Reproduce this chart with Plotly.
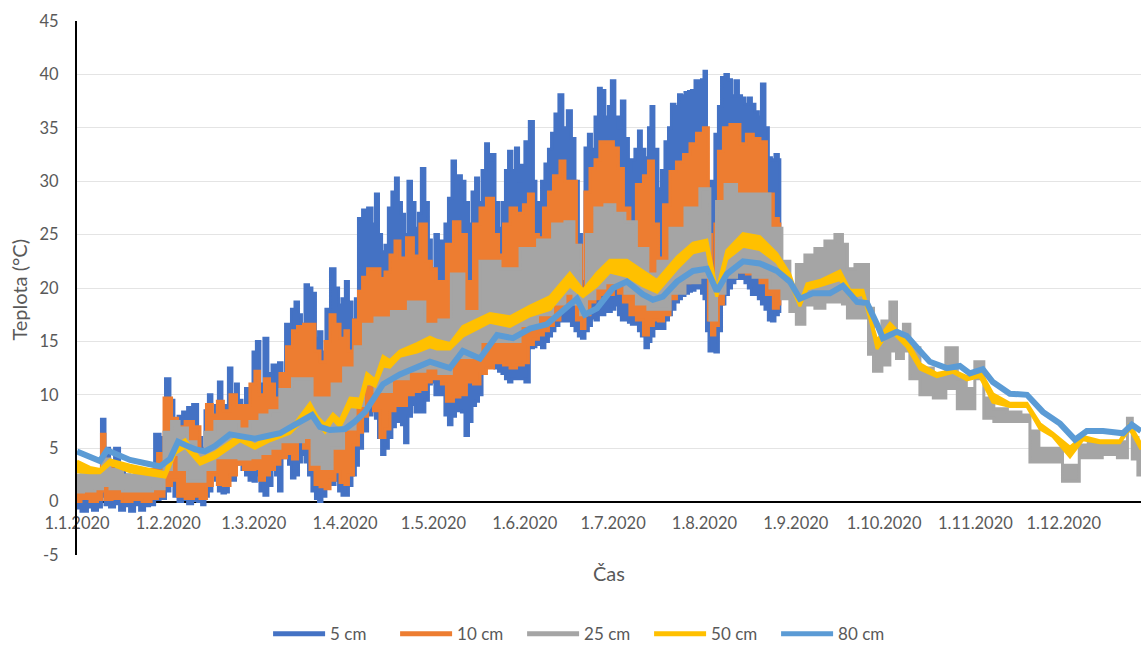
import pandas as pd
import plotly.graph_objects as go

# ---------------- axis labels ----------------
month_ticks = ['2020-01-01', '2020-02-01', '2020-03-01', '2020-04-01', '2020-05-01', '2020-06-01',
               '2020-07-01', '2020-08-01', '2020-09-01', '2020-10-01', '2020-11-01', '2020-12-01']
month_labels = ['1.1.2020', '1.2.2020', '1.3.2020', '1.4.2020', '1.5.2020', '1.6.2020',
                '1.7.2020', '1.8.2020', '1.9.2020', '1.10.2020', '1.11.2020', '1.12.2020']
y_ticks = [-5, 0, 5, 10, 15, 20, 25, 30, 35, 40, 45]
series_names = ['5 cm', '10 cm', '25 cm', '50 cm', '80 cm']

# ---------------- 5 cm (day of year, daily max envelope, daily min envelope) ----------------
days_5 = [0.0, 2.7, 4.4, 6.1, 7.8, 8.8, 10.2, 11.9, 13.6, 15.3,
          17.0, 18.7, 20.4, 22.1, 23.8, 25.5, 27.2, 29.2, 30.9, 32.2,
          33.6, 35.0, 36.7, 38.4, 40.1, 41.8, 42.8, 44.1, 45.1, 46.5,
          47.5, 48.5, 49.9, 50.9, 51.9, 53.3, 54.3, 55.3, 56.7, 57.7,
          59.1, 60.4, 61.4, 62.8, 64.1, 65.5, 66.9, 67.9, 68.9, 70.3,
          71.3, 72.3, 73.3, 74.7, 75.7, 76.7, 78.1, 79.1, 80.4, 81.5,
          82.5, 83.8, 85.2, 86.9, 88.3, 89.3, 90.6, 91.6, 92.7, 94.0,
          95.0, 96.1, 97.8, 99.5, 100.8, 101.8, 102.9, 103.9, 105.2, 106.2,
          107.6, 108.6, 109.6, 110.7, 111.7, 113.0, 114.1, 115.4, 116.4, 117.4,
          118.8, 119.8, 120.8, 122.2, 123.2, 124.2, 125.6, 126.6, 128.0, 129.0,
          130.0, 131.0, 132.4, 133.4, 134.8, 135.8, 136.8, 138.2, 139.2, 140.2,
          141.2, 142.6, 143.6, 144.9, 146.0, 147.0, 148.3, 149.4, 150.4, 151.4,
          152.7, 154.4, 155.5, 156.1, 157.2, 158.2, 159.5, 160.6, 161.6, 162.9,
          164.3, 165.6, 167.3, 168.4, 169.7, 170.7, 171.8, 173.1, 174.1, 175.2,
          176.5, 177.5, 178.5, 179.9, 180.9, 181.9, 183.3, 184.3, 185.3, 186.7,
          187.7, 188.7, 190.1, 191.1, 192.1, 193.5, 194.5, 195.2, 196.5, 197.9,
          198.9, 200.3, 201.3, 202.3, 203.7, 204.7, 205.7, 207.1, 208.1, 209.1,
          210.5, 211.5, 212.5, 213.2, 214.2, 214.9, 215.9, 217.2, 218.3, 219.3,
          220.6, 221.7, 222.7, 224.0, 225.1, 226.1, 227.4, 228.4, 229.5, 230.8,
          231.8, 232.9, 234.2, 235.2, 236.3, 237.6, 238.6]
hi_5 = [2.0, 2.5, 1.5, 2.0, 3.0, 7.7, 5.0, 3.0, 5.0, 3.0,
        2.5, 2.0, 2.5, 2.0, 2.0, 2.5, 6.3, 6.0, 11.5, 9.5,
        7.5, 8.0, 8.4, 8.8, 9.1, 6.0, 5.0, 8.5, 10.0, 8.0,
        9.0, 11.2, 8.0, 9.0, 12.5, 10.0, 11.0, 9.5, 8.0, 10.6,
        9.0, 14.0, 15.0, 11.0, 15.3, 12.0, 12.8, 11.0, 13.0, 12.0,
        16.6, 15.0, 18.0, 18.7, 17.5, 16.6, 20.3, 20.0, 19.5, 15.3,
        15.9, 14.0, 18.0, 21.8, 20.0, 18.4, 19.0, 20.6, 18.7, 17.0,
        19.0, 26.5, 27.3, 27.5, 26.0, 28.8, 25.0, 23.4, 24.0, 27.5,
        29.0, 30.3, 28.0, 26.9, 25.0, 30.0, 28.0, 25.6, 27.0, 31.2,
        28.0, 24.5, 21.8, 25.0, 20.9, 24.4, 26.0, 28.4, 31.9, 29.0,
        30.5, 30.0, 28.0, 26.0, 29.0, 30.3, 28.0, 31.0, 33.5, 32.0,
        32.5, 28.0, 25.6, 28.0, 31.0, 32.8, 31.0, 33.1, 30.0, 31.5,
        33.7, 35.6, 30.0, 26.9, 28.0, 30.0, 31.6, 33.0, 34.5, 36.3,
        38.1, 35.0, 36.6, 34.0, 30.0, 25.0, 20.6, 33.1, 34.4, 33.0,
        36.0, 38.7, 38.5, 36.0, 37.0, 39.4, 36.0, 35.0, 37.5, 34.0,
        30.9, 32.0, 33.0, 34.7, 33.0, 32.2, 35.0, 37.0, 33.0, 29.3,
        31.0, 33.7, 35.0, 37.2, 37.0, 38.1, 38.0, 38.3, 38.4, 38.5,
        39.4, 39.0, 39.5, 40.3, 30.0, 27.8, 30.0, 34.4, 37.0, 39.7,
        40.0, 39.5, 38.0, 39.4, 38.0, 37.8, 37.2, 37.8, 37.2, 36.5,
        36.0, 39.1, 35.0, 32.2, 32.0, 32.5, 32.0]
lo_5 = [-0.6, -0.9, -0.5, -0.8, -0.5, 0.5, -0.3, -0.5, -0.2, -0.8,
        -0.4, -0.9, -0.3, -0.8, -0.4, -0.3, 0.2, 0.3, 1.0, 3.0,
        0.5, 0.0, 0.2, -0.2, 0.1, 0.0, -0.3, 0.5, 1.0, 3.1,
        2.0, 1.0, 0.8, 0.9, 2.5, 2.0, 3.5, 3.7, 3.0, 2.5,
        2.0, 1.9, 2.5, 1.0, 0.6, 1.5, 3.1, 2.5, 1.0, 4.1,
        5.0, 3.5, 2.2, 2.5, 3.7, 4.4, 3.7, 2.5, 1.0, 0.3,
        0.0, 0.5, 2.5, 1.6, 2.0, 1.0, 0.6, 0.6, 1.5, 2.5,
        3.4, 5.0, 6.6, 8.1, 8.5, 7.8, 6.0, 4.4, 5.0, 6.0,
        7.0, 7.8, 7.5, 7.2, 5.5, 8.0, 9.1, 8.4, 9.0, 8.4,
        9.5, 11.0, 11.2, 10.0, 11.0, 10.0, 8.1, 7.2, 8.0, 9.0,
        8.5, 8.4, 6.2, 7.5, 9.0, 9.4, 10.0, 12.0, 13.0, 13.4,
        13.0, 12.5, 12.2, 12.0, 11.5, 11.2, 11.5, 11.5, 11.8, 11.5,
        11.2, 14.4, 14.5, 14.7, 14.7, 14.4, 15.0, 15.5, 16.0, 16.5,
        16.9, 16.9, 16.9, 16.5, 16.0, 15.5, 15.3, 16.0, 16.5, 17.2,
        17.0, 17.5, 17.5, 17.8, 17.8, 18.0, 18.4, 17.5, 17.0, 17.0,
        16.8, 16.6, 16.6, 16.0, 15.5, 14.4, 15.0, 15.5, 16.2, 16.2,
        16.2, 17.0, 17.5, 18.0, 18.7, 19.0, 19.3, 19.5, 19.7, 19.8,
        20.0, 20.0, 19.5, 19.0, 16.0, 14.1, 14.1, 14.0, 16.0, 18.5,
        19.4, 20.0, 20.5, 20.9, 20.9, 20.9, 20.5, 20.0, 19.4, 19.4,
        19.0, 18.5, 18.0, 17.0, 16.9, 17.5, 17.8]

# ---------------- 10 cm ----------------
days_10 = [0.0, 2.7, 6.1, 7.8, 8.8, 10.2, 13.6, 17.0, 20.4, 23.8,
           26.5, 28.2, 30.9, 33.3, 35.0, 38.4, 40.7, 42.8, 45.1, 46.8,
           48.5, 50.9, 53.0, 55.3, 57.7, 59.7, 61.1, 62.8, 64.5, 66.2,
           67.9, 69.9, 72.3, 74.0, 75.7, 78.1, 80.1, 81.5, 83.5, 84.9,
           86.9, 88.3, 90.3, 91.6, 92.7, 95.0, 96.1, 97.8, 99.5, 101.8,
           103.9, 105.2, 107.3, 108.6, 110.7, 113.0, 115.4, 117.4, 119.8, 120.8,
           123.2, 124.2, 126.6, 129.0, 131.0, 133.4, 135.8, 137.8, 140.2, 142.6,
           143.6, 146.0, 148.0, 150.4, 152.7, 153.8, 156.1, 157.2, 159.5, 160.6,
           162.9, 165.0, 166.3, 168.4, 170.7, 171.8, 173.1, 175.2, 176.5, 178.5,
           180.9, 183.3, 184.3, 186.7, 188.7, 191.1, 193.5, 194.5, 196.9, 197.9,
           200.3, 202.3, 204.7, 207.1, 209.1, 211.5, 213.8, 214.9, 215.9, 217.2,
           218.3, 220.6, 222.7, 224.0, 226.1, 228.4, 230.8, 232.9, 235.2, 237.6,
           238.6]
hi_10 = [1.5, 1.9, 1.2, 2.0, 6.3, 3.5, 3.0, 1.8, 1.5, 1.5,
         3.0, 4.5, 9.7, 7.8, 7.0, 7.5, 7.0, 4.5, 9.1, 8.1,
         9.4, 8.5, 10.0, 9.0, 9.0, 11.0, 12.2, 10.0, 11.5, 11.0,
         9.7, 12.0, 14.5, 16.0, 16.4, 16.6, 16.6, 14.1, 13.1, 15.0,
         17.5, 16.6, 15.3, 16.0, 14.1, 17.0, 19.7, 21.0, 21.8, 21.8,
         20.9, 21.5, 23.1, 24.4, 22.8, 24.7, 23.0, 26.0, 22.5, 21.8,
         20.6, 20.6, 24.1, 26.2, 25.0, 20.6, 26.0, 27.5, 28.4, 25.0,
         23.1, 26.0, 27.5, 27.0, 27.8, 28.8, 25.0, 24.7, 27.5, 29.0,
         30.5, 31.9, 30.0, 30.0, 24.0, 19.4, 29.0, 31.2, 32.0, 33.7,
         33.7, 33.1, 31.2, 27.5, 23.7, 29.7, 30.5, 31.9, 26.0, 22.8,
         27.8, 30.9, 31.8, 32.5, 33.5, 34.5, 35.0, 25.0, 19.4, 26.0,
         32.8, 35.0, 35.3, 35.3, 33.5, 34.4, 34.0, 33.7, 28.8, 26.5,
         26.0]
lo_10 = [0.0, 0.3, 0.0, 0.2, 1.0, 0.2, 0.3, 0.0, 0.2, 0.0,
         0.3, 0.5, 1.5, 2.0, 0.5, 0.3, 0.5, 0.3, 1.5, 2.5,
         1.6, 1.5, 2.5, 3.5, 3.0, 3.0, 3.1, 2.0, 2.5, 3.0,
         3.5, 4.1, 4.5, 4.0, 5.9, 5.0, 3.0, 1.6, 1.4, 1.2,
         2.0, 2.8, 1.8, 1.6, 2.5, 5.3, 6.5, 8.0, 9.1, 8.5,
         6.0, 6.8, 8.5, 9.0, 9.0, 10.0, 10.3, 10.5, 11.2, 11.5,
         11.5, 11.0, 9.4, 9.8, 10.0, 11.2, 11.0, 12.0, 12.5, 13.0,
         13.0, 12.8, 12.5, 12.8, 13.0, 14.7, 15.2, 15.6, 16.0, 16.5,
         17.0, 18.0, 18.5, 18.7, 17.0, 16.2, 17.5, 18.7, 19.0, 19.4,
         19.4, 20.0, 19.5, 18.7, 17.5, 17.0, 15.6, 16.5, 17.0, 16.9,
         17.5, 19.0, 20.0, 20.5, 21.0, 21.5, 21.8, 17.0, 15.6, 16.5,
         18.5, 21.3, 21.5, 21.8, 21.5, 21.3, 21.5, 20.5, 19.4, 18.1,
         18.5]

# ---------------- 25 cm ----------------
days_25 = [0.0, 4.4, 7.8, 9.5, 12.9, 18.0, 23.1, 28.2, 30.9, 33.3,
           36.0, 39.0, 41.8, 45.1, 48.5, 53.0, 57.0, 60.4, 63.8, 67.2,
           70.6, 75.7, 78.1, 81.5, 84.9, 88.3, 92.7, 96.1, 98.4, 103.9,
           109.6, 115.4, 120.8, 124.9, 129.3, 133.4, 140.2, 147.0, 153.8, 158.9,
           164.0, 167.3, 170.1, 171.8, 174.1, 177.5, 180.9, 184.3, 187.7, 192.1,
           195.5, 198.9, 203.7, 209.1, 213.8, 215.9, 218.3, 221.7, 226.1, 232.9,
           237.6, 241.0, 243.0, 245.4, 248.8, 252.2, 255.6, 259.0, 260.7, 262.4,
           265.8, 268.2, 269.2, 271.6, 274.9, 277.0, 279.4, 281.7, 283.8, 288.5,
           292.9, 297.0, 300.7, 303.1, 306.5, 309.2, 313.3, 318.4, 322.5, 324.5,
           328.6, 333.7, 335.4, 339.4, 341.1, 345.5, 350.6, 355.8, 357.4, 359.1,
           361.2]
hi_25 = [2.5, 2.5, 2.8, 4.0, 3.0, 2.5, 2.5, 2.8, 6.5, 7.5,
         6.9, 5.6, 4.7, 6.5, 7.5, 7.5, 6.8, 7.5, 8.1, 8.5,
         10.5, 11.5, 11.5, 9.7, 9.7, 11.0, 12.5, 14.5, 16.6, 17.2,
         17.8, 18.7, 16.6, 17.0, 21.3, 17.8, 22.5, 21.8, 23.7, 24.5,
         26.0, 26.2, 24.0, 19.5, 25.0, 27.5, 27.8, 27.0, 26.2, 23.7,
         21.3, 22.5, 25.6, 27.5, 29.3, 21.0, 28.1, 29.7, 28.8, 28.8,
         25.6, 22.5, 20.0, 22.2, 23.1, 23.7, 24.4, 25.0, 24.1, 21.8,
         22.2, 22.2, 18.1, 14.5, 16.9, 18.7, 15.3, 16.6, 14.4, 12.5,
         11.9, 14.4, 11.5, 10.6, 13.1, 9.7, 8.7, 8.4, 8.1, 6.6,
         5.0, 5.0, 3.4, 3.4, 5.3, 5.6, 5.6, 5.6, 7.8, 6.0,
         5.0]
lo_25 = [0.9, 1.0, 1.2, 1.5, 1.2, 1.0, 1.0, 1.2, 3.0, 4.4,
         3.0, 1.9, 1.9, 3.0, 4.1, 4.1, 4.0, 4.1, 4.5, 5.0,
         5.6, 5.6, 6.0, 3.5, 3.1, 5.0, 6.8, 9.0, 11.0, 10.3,
         11.5, 12.2, 12.5, 12.0, 13.5, 13.5, 15.0, 15.0, 16.5, 17.5,
         18.5, 19.5, 18.5, 17.5, 19.0, 20.0, 20.5, 20.5, 19.5, 18.5,
         18.0, 18.0, 19.5, 20.5, 21.0, 17.0, 19.5, 21.0, 21.5, 21.0,
         20.0, 19.0, 17.8, 16.6, 18.4, 18.1, 18.7, 18.7, 18.5, 17.2,
         17.2, 17.2, 13.8, 12.2, 12.8, 14.1, 13.4, 14.1, 11.5, 10.0,
         9.7, 10.6, 8.7, 8.7, 11.5, 7.8, 7.5, 7.5, 7.5, 3.7,
         3.7, 3.7, 1.9, 1.9, 4.1, 4.1, 4.4, 4.1, 6.6, 4.0,
         2.5]

# ---------------- 50 cm ----------------
days_50 = [0.0, 4.4, 7.8, 11.2, 18.0, 24.8, 29.9, 33.3, 36.7, 41.8,
           46.8, 55.3, 60.4, 65.5, 72.3, 79.1, 81.5, 84.2, 86.9, 89.3,
           92.7, 96.1, 98.4, 101.2, 103.9, 106.2, 109.6, 115.4, 119.8, 122.2,
           126.6, 131.0, 140.2, 147.0, 153.8, 160.6, 167.3, 171.8, 176.5, 180.9,
           186.7, 192.1, 196.9, 203.7, 209.1, 213.8, 215.5, 217.2, 220.6, 226.1,
           231.8, 237.6, 242.0, 245.4, 247.8, 252.2, 259.0, 262.4, 266.8, 269.2,
           271.6, 276.0, 281.7, 286.2, 291.9, 297.4, 302.1, 306.5, 310.9, 316.7,
           322.5, 326.9, 331.3, 337.1, 341.5, 347.2, 354.0, 357.4, 361.2]
hi_50 = [3.8, 3.2, 3.0, 3.9, 3.4, 3.0, 2.7, 5.2, 5.8, 4.0,
         4.6, 6.2, 5.3, 6.2, 6.7, 9.2, 8.0, 7.2, 8.2, 7.6,
         9.7, 9.6, 12.0, 11.4, 13.6, 13.2, 14.1, 14.8, 15.4, 15.1,
         14.8, 16.4, 17.6, 17.3, 18.3, 19.2, 21.4, 19.8, 21.4, 22.6,
         22.6, 21.6, 20.7, 22.9, 24.2, 24.5, 22.0, 19.8, 23.5, 25.1,
         24.8, 23.2, 21.3, 18.5, 20.4, 20.7, 21.6, 19.8, 19.8, 17.3,
         15.1, 16.7, 15.1, 12.9, 12.0, 12.3, 11.7, 12.3, 10.1, 9.2,
         9.2, 7.3, 6.4, 5.1, 6.1, 5.7, 5.7, 7.3, 5.4]
lo_50 = [2.8, 2.7, 2.7, 3.5, 2.8, 2.5, 2.3, 4.5, 5.1, 3.5,
         4.1, 5.7, 5.0, 5.7, 6.4, 8.3, 7.4, 6.5, 7.7, 7.0,
         8.9, 8.8, 11.2, 10.8, 12.7, 12.6, 13.6, 14.0, 14.5, 14.3,
         14.3, 15.5, 16.8, 16.4, 17.4, 18.0, 20.2, 19.2, 20.2, 21.5,
         21.1, 20.2, 19.6, 21.8, 23.3, 23.6, 21.0, 19.2, 22.7, 23.9,
         23.6, 22.4, 20.5, 18.3, 19.9, 20.2, 20.8, 19.2, 19.4, 17.1,
         14.3, 16.1, 14.5, 12.4, 11.7, 12.1, 11.4, 11.7, 9.3, 8.9,
         8.9, 6.8, 6.1, 4.2, 5.8, 5.5, 5.5, 6.8, 4.9]

# ---------------- 80 cm ----------------
days_80 = [0.0, 7.8, 10.2, 18.0, 24.8, 28.2, 31.6, 34.3, 36.7, 40.1,
           43.4, 46.8, 51.9, 57.0, 60.4, 63.8, 68.9, 74.0, 79.8, 82.5,
           85.9, 91.0, 94.4, 97.8, 101.2, 103.9, 109.6, 115.4, 119.8, 126.6,
           131.0, 136.8, 142.6, 148.0, 153.8, 159.5, 165.0, 169.7, 172.4, 176.5,
           182.0, 186.7, 192.1, 195.5, 198.9, 203.7, 209.1, 213.8, 217.2, 220.6,
           226.1, 231.8, 237.6, 242.0, 245.4, 249.8, 255.6, 260.0, 264.8, 268.2,
           271.6, 273.6, 278.3, 281.7, 286.2, 289.5, 295.3, 299.7, 303.1, 307.5,
           310.9, 316.7, 322.5, 327.9, 333.7, 338.8, 342.8, 348.3, 355.1, 358.1,
           361.2]
vals_80 = [4.7, 3.8, 4.8, 3.9, 3.5, 3.3, 4.0, 5.6, 5.3, 4.9,
           4.7, 5.2, 6.3, 6.1, 5.9, 6.1, 6.4, 7.2, 8.1, 7.0,
           6.7, 6.8, 7.5, 8.4, 10.0, 11.0, 11.9, 12.5, 13.1, 12.5,
           14.1, 13.4, 15.6, 15.3, 16.2, 16.6, 17.8, 19.0, 17.5, 18.1,
           20.0, 20.6, 19.4, 18.9, 19.2, 20.6, 21.6, 21.8, 19.7, 21.3,
           22.5, 22.3, 21.6, 20.6, 19.0, 19.5, 19.5, 20.2, 18.7, 18.6,
           16.6, 15.3, 15.9, 15.5, 14.1, 13.1, 12.5, 12.7, 12.0, 12.4,
           11.2, 10.1, 10.0, 8.4, 7.3, 5.8, 6.6, 6.6, 6.4, 7.2,
           6.6]

for a, b, c in [(days_5, hi_5, lo_5), (days_10, hi_10, lo_10),
                (days_25, hi_25, lo_25), (days_50, hi_50, lo_50)]:
    assert len(a) == len(b) == len(c), (len(a), len(b), len(c))
assert len(days_80) == len(vals_80)

# ---------------- styling ----------------
COLORS = ['#4472C4', '#ED7D31', '#A5A5A5', '#FFC000', '#5B9BD5']
FONT = 'Lato, "Open Sans", sans-serif'
TXT = '#595959'
START = pd.Timestamp('2020-01-01')


def to_dates(days):
    return [START + pd.Timedelta(days=d) for d in days]


def band(days, hi, lo, color, shape):
    d = to_dates(days)
    return go.Scatter(x=d + d[::-1], y=list(hi) + list(lo)[::-1],
                      mode='lines', fill='toself', fillcolor=color,
                      line=dict(color=color, width=3, shape=shape),
                      showlegend=False, hoverinfo='skip')


fig = go.Figure()
fig.add_trace(band(days_5, hi_5, lo_5, COLORS[0], 'hvh'))
fig.add_trace(band(days_10, hi_10, lo_10, COLORS[1], 'hvh'))
fig.add_trace(band(days_25, hi_25, lo_25, COLORS[2], 'hvh'))
fig.add_trace(band(days_50, hi_50, lo_50, COLORS[3], 'linear'))
fig.add_trace(go.Scatter(x=to_dates(days_80), y=vals_80, mode='lines',
                         line=dict(color=COLORS[4], width=6),
                         showlegend=False, hoverinfo='skip'))

# legend entries
for name, col in zip(series_names, COLORS):
    fig.add_trace(go.Scatter(x=[None], y=[None], mode='lines', name=name,
                             line=dict(color=col, width=5)))

fig.update_layout(
    width=1141, height=646,
    margin=dict(l=77, r=0, t=21, b=91, autoexpand=False),
    paper_bgcolor='white', plot_bgcolor='white',
    font=dict(family=FONT, size=16, color=TXT),
    showlegend=True,
    legend=dict(orientation='h', x=0.478, xanchor='center',
                yref='container', y=0.046, yanchor='top',
                font=dict(size=17, color=TXT), itemwidth=52,
                entrywidth=60, entrywidthmode='pixels',
                bgcolor='rgba(0,0,0,0)'),
    xaxis=dict(type='date', range=['2020-01-01', '2020-12-27 05:00'],
               tickvals=month_ticks, ticktext=month_labels,
               anchor='free', position=0.1,
               showline=True, linecolor='black', linewidth=2,
               showgrid=False, zeroline=False,
               ticks='outside', ticklen=7, tickcolor='rgba(0,0,0,0)',
               tickfont=dict(size=16.5, color=TXT, family=FONT),
               layer='below traces'),
    yaxis=dict(range=[-5, 45], tickvals=y_ticks, ticktext=[str(v) for v in y_ticks],
               showline=True, linecolor='black', linewidth=2,
               showgrid=True, gridcolor='#E4E4E4', gridwidth=1,
               zeroline=False,
               ticks='outside', ticklen=13, tickcolor='rgba(0,0,0,0)',
               tickfont=dict(size=16.5, color=TXT, family=FONT)),
    annotations=[
        dict(text='Teplota (°C)', xref='paper', yref='paper', x=-0.0545, y=0.497,
             xanchor='center', yanchor='middle', textangle=-90, showarrow=False,
             font=dict(size=20, color=TXT, family=FONT)),
        dict(text='Čas', xref='paper', yref='paper', x=0.5, y=-0.034,
             xanchor='center', yanchor='middle', showarrow=False,
             font=dict(size=20, color=TXT, family=FONT)),
    ],
)

fig.write_html('out.html')
